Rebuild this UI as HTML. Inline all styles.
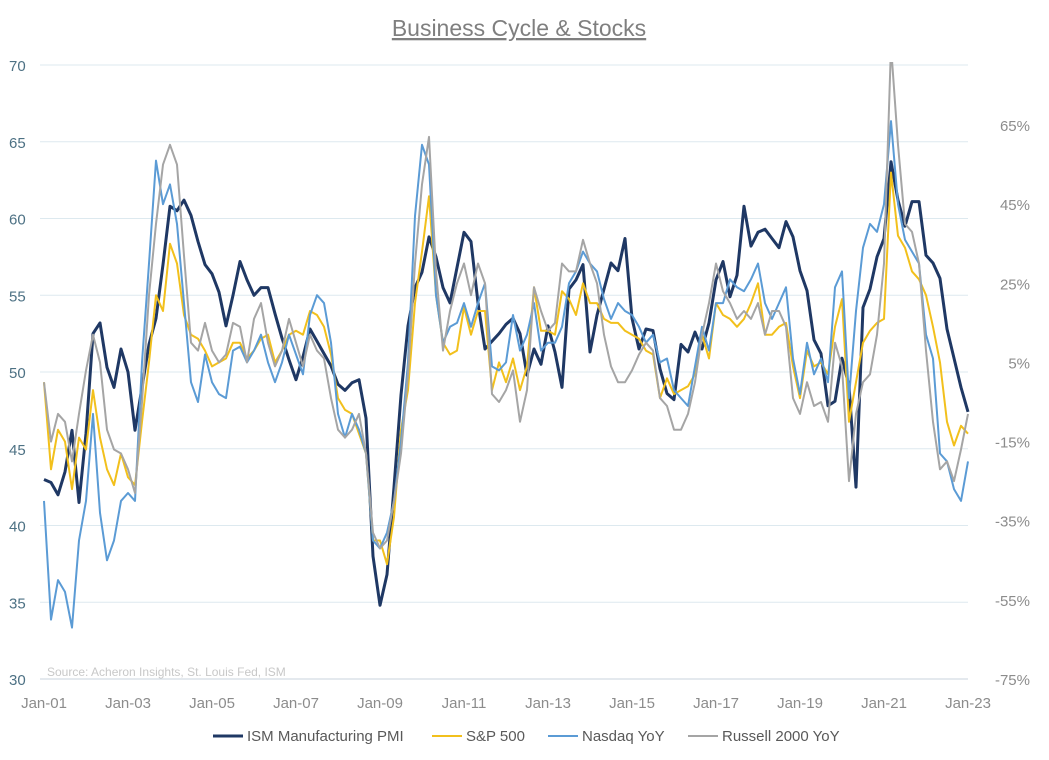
<!DOCTYPE html>
<html><head><meta charset="utf-8"><style>
html,body{margin:0;padding:0;background:#fff;}
svg{display:block;font-family:"Liberation Sans",sans-serif;}
</style></head><body>
<svg id="chart" width="1049" height="760" viewBox="0 0 1049 760">
<text x="519" y="36" text-anchor="middle" font-size="23" fill="#7f7f7f" text-decoration="underline">Business Cycle &amp; Stocks</text>
<g id="grid"></g>
<g id="yl"></g>
<g id="yr"></g>
<g id="xa"></g>
<defs><clipPath id="clip"><rect x="0" y="62" width="1049" height="640"/></clipPath></defs>
<g id="series" clip-path="url(#clip)"></g>
<text x="47" y="676" font-size="12" fill="#c8c8c8">Source: Acheron Insights, St. Louis Fed, ISM</text>
<g id="legend"></g>
</svg>
<script>
const xLabels=["Jan-01","Jan-03","Jan-05","Jan-07","Jan-09","Jan-11","Jan-13","Jan-15","Jan-17","Jan-19","Jan-21","Jan-23"];
const leftTicks=[30,35,40,45,50,55,60,65,70];
const rightTicks=[-75,-55,-35,-15,5,25,45,65];
// bi-monthly observations Jan-01 .. Jan-23
const ism=[43.0,42.8,42.0,43.5,46.2,41.5, 46.0,52.5,53.2,50.3,49.0,51.5, 50.0,46.2,49.0,51.8,53.5,57.0, 60.8,60.5,61.2,60.2,58.5,57.0,
56.4,55.2,53.0,55.0,57.2,56.0, 55.0,55.5,55.5,53.8,52.2,50.8, 49.5,51.0,52.8,52.0,51.2,50.4, 49.2,48.8,49.3,49.5,47.0,38.0,
34.8,36.8,42.5,48.5,53.0,55.5, 56.5,58.8,57.5,55.5,54.5,56.8, 59.1,58.5,54.5,51.5,52.0,52.5, 53.1,53.5,52.5,49.8,51.5,50.5,
53.0,51.3,49.0,55.4,56.0,57.0, 51.3,53.7,55.4,57.1,56.6,58.7, 53.5,51.5,52.8,52.7,50.2,48.6, 48.2,51.8,51.3,52.6,51.5,53.2,
56.0,57.2,54.9,56.3,60.8,58.2, 59.1,59.3,58.7,58.1,59.8,58.8, 56.6,55.3,52.1,51.2,47.8,48.1, 50.9,49.1,42.5,54.2,55.4,57.5,
58.7,63.7,61.2,59.5,61.1,61.1, 57.6,57.1,56.1,52.8,50.9,49.0, 47.4];
const spx=[0,-22,-12,-15,-27,-14, -17,-2,-14,-22,-26,-18, -24,-26,-10,5,22,18, 35,30,17,12,11,8,
4,5,6,10,10,6, 8,11,12,5,8,12, 13,12,18,17,14,7, -4,-7,-8,-13,-18,-40,
-40,-46,-34,-12,-2,20, 33,47,22,10,7,8, 19,12,18,18,-2,5, 0,6,-2,4,24,13,
13,12,23,21,17,25, 20,20,16,15,15,13, 12,11,8,7,-4,1, -3,-2,-1,2,12,6,
20,17,16,14,16,20, 25,12,12,14,15,4, -4,8,4,5,2,14, 21,-10,0,10,13,15,
16,53,37,34,28,26, 22,14,5,-10,-16,-11, -13];
const ndx=[-30,-60,-50,-53,-62,-40, -30,-8,-33,-45,-40,-30, -28,-30,5,30,56,45, 50,40,20,0,-5,7,
0,-3,-4,8,9,5, 8,12,5,0,5,12, 7,2,17,22,20,10, -8,-14,-8,-12,-18,-40,
-42,-38,-30,-15,5,42, 60,55,22,10,14,15, 20,14,20,25,4,3, 5,17,8,12,20,8,
10,10,14,25,28,33, 30,28,21,16,20,18, 17,14,10,12,5,6, -2,-4,-6,4,14,8,
20,20,26,24,23,26, 30,20,16,20,24,6, -3,10,2,6,0,24, 28,-4,18,34,40,38,
45,66,45,36,33,30, 12,6,-18,-20,-27,-30, -20];
const rut=[0,-15,-8,-10,-20,-8, 3,12,5,-12,-17,-18, -22,-28,-5,22,40,55, 60,55,32,10,8,15,
8,5,7,15,14,5, 16,20,10,4,8,16, 10,4,12,8,6,-4, -12,-14,-12,-8,-18,-38,
-42,-40,-30,-18,2,30, 50,62,28,8,18,25, 30,22,30,25,-3,-5, -2,3,-10,-2,24,18,
13,15,30,28,28,36, 30,25,12,4,0,0, 3,7,10,8,-4,-6, -12,-12,-8,0,12,20,
30,23,20,16,18,16, 20,12,18,18,14,-4, -8,0,-6,-5,-10,10, 4,-25,-8,0,2,12,
30,85,60,40,38,30, 8,-10,-22,-20,-25,-17, -8];

const NS="http://www.w3.org/2000/svg";
function mk(tag,attrs,parent){const e=document.createElementNS(NS,tag);for(const k in attrs)e.setAttribute(k,attrs[k]);parent.appendChild(e);return e;}
const X0=44,PXM=3.5;
const xOf=i=>X0+i*2*PXM;
const yL=v=>679-(v-30)*15.35;
const yR=v=>679-(v+75)*3.957;

const grid=document.getElementById('grid');
leftTicks.forEach(t=>{
  const l=mk('line',{x1:40,x2:968,y1:yL(t),y2:yL(t),stroke:t===30?'#c9d3dc':'#dde9ef','stroke-width':1},grid);
  
  
  const tx=mk('text',{x:9,y:yL(t)+6,'font-size':15,fill:'#4d7184'},document.getElementById('yl'));
  tx.textContent=t;
  
  
});
rightTicks.forEach(t=>{
  const tx=mk('text',{x:1030,y:yR(t)+6,'font-size':15,fill:'#8c8c8c','text-anchor':'end'},document.getElementById('yr'));
  tx.textContent=t+'%';
  
  
});
xLabels.forEach((s,i)=>{
  const tx=mk('text',{x:X0+i*24*PXM,y:708,'font-size':15,fill:'#8c8c8c','text-anchor':'middle'},document.getElementById('xa'));
  tx.textContent=s;
  
  
});
function line(data,yf,color,w,name){
  const d=data.map((v,i)=>(i?'L':'M')+xOf(i).toFixed(1)+','+yf(v).toFixed(1)).join('');
  const p=mk('path',{d:d,fill:'none',stroke:color,'stroke-width':w,'stroke-linejoin':'round'},document.getElementById('series'));
  
  
}
line(ism,yL,'#1f3864',3,'ism-pmi-line');
line(spx,yR,'#f2c01c',2,'sp500-line');
line(ndx,yR,'#5b9bd5',2,'nasdaq-line');
line(rut,yR,'#a5a5a5',2,'russell-line');

const legendItems=[["ISM Manufacturing PMI",'#1f3864',3,213],["S&P 500",'#f2c01c',2,432],["Nasdaq YoY",'#5b9bd5',2,548],["Russell 2000 YoY",'#a5a5a5',2,688]];
const lg=document.getElementById('legend');
legendItems.forEach(([n,c,w,x])=>{
  const g=mk('g',{},lg);
  
  
  mk('line',{x1:x,x2:x+30,y1:736,y2:736,stroke:c,'stroke-width':w},g);
  const t=mk('text',{x:x+34,y:741,'font-size':15,fill:'#595959'},g);
  t.textContent=n;
});
</script>
</body></html>
